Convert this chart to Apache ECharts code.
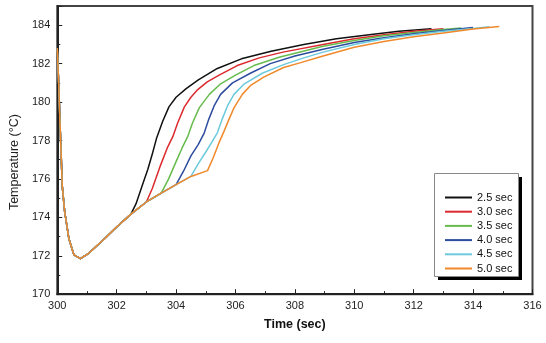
<!DOCTYPE html>
<html>
<head>
<meta charset="utf-8">
<script src="https://cdn.jsdelivr.net/npm/echarts@6/dist/echarts.min.js"></script>
<style>html,body{margin:0;padding:0;background:#fff}#c{width:546px;height:343px}</style>
</head>
<body>
<div id="c"></div>
<script>
// Series names
const seriesNames = ['2.5 sec', '3.0 sec', '3.5 sec', '4.0 sec', '4.5 sec', '5.0 sec'];
// Common cooling / base path (time s, temperature °C)
const baseCurve = [
  [300.0,182.8],[300.05,180.9],[300.1,178.6],[300.17,175.6],[300.25,174.3],[300.39,172.9],
  [300.56,172.05],[300.78,171.85],[301.06,172.13],[301.6,172.9],[302.0,173.5],[302.48,174.17],
  [303.0,174.8],[303.5,175.26],[304.0,175.7],[304.5,176.13],[305.06,176.43]
];
// Branch time for each series (where it leaves the base path)
const branchTimes = [302.48, 303.0, 303.5, 304.0, 304.5, 305.06];
// Rising part of each series
const rise25 = [[302.65,174.7],[302.85,175.6],[303.05,176.5],[303.2,177.3],[303.34,178.1],[303.55,179.0],[303.76,179.75],[304.0,180.25],[304.34,180.7],[304.75,181.15],[305.39,181.75],[306.2,182.25],[307.2,182.65],[308.3,183.0],[309.4,183.3],[310.5,183.5],[311.5,183.68],[312.6,183.82]];
const rise30 = [[303.2,175.5],[303.45,176.6],[303.7,177.6],[303.89,178.2],[304.05,178.9],[304.28,179.75],[304.5,180.25],[304.73,180.65],[305.05,181.05],[305.45,181.4],[306.06,181.9],[306.8,182.3],[307.6,182.6],[308.95,183.0],[310.0,183.3],[311.0,183.5],[312.0,183.68],[313.0,183.82]];
const rise35 = [[303.75,176.0],[304.0,176.9],[304.2,177.6],[304.39,178.2],[304.55,178.9],[304.78,179.7],[305.12,180.4],[305.5,180.95],[306.0,181.4],[306.62,181.9],[307.5,182.35],[308.95,182.9],[310.0,183.2],[311.0,183.45],[312.0,183.62],[313.0,183.78],[313.6,183.85]];
const rise40 = [[304.25,176.4],[304.5,177.2],[304.75,177.8],[304.95,178.4],[305.1,179.1],[305.28,179.8],[305.5,180.4],[305.9,181.0],[306.5,181.5],[307.17,182.0],[308.0,182.4],[308.95,182.75],[310.0,183.1],[311.0,183.35],[312.0,183.55],[313.0,183.72],[314.0,183.88]];
const rise45 = [[304.75,176.8],[305.0,177.4],[305.2,177.9],[305.39,178.4],[305.55,179.1],[305.73,179.8],[305.95,180.4],[306.3,180.95],[306.9,181.5],[307.62,181.95],[308.3,182.3],[308.95,182.6],[310.0,183.0],[311.0,183.3],[312.0,183.5],[313.0,183.68],[314.0,183.83],[314.55,183.92]];
const rise50 = [[305.25,177.1],[305.45,177.9],[305.62,178.5],[305.78,179.1],[305.95,179.7],[306.23,180.4],[306.5,180.85],[306.95,181.3],[307.62,181.8],[308.17,182.04],[308.95,182.4],[310.0,182.85],[311.0,183.15],[312.0,183.4],[313.0,183.6],[314.0,183.8],[314.88,183.93]];
const rises = [rise25, rise30, rise35, rise40, rise45, rise50];
const colors = ['#111111', '#dc2a2f', '#66bb4d', '#2d4c9e', '#6ccadd', '#f0892b'];

const series = seriesNames.map((name, i) => ({
  name: name,
  type: 'line',
  showSymbol: false,
  symbol: 'none',
  smooth: false,
  lineStyle: { width: 1.5, color: colors[i], join: 'round' },
  itemStyle: { color: colors[i] },
  data: baseCurve.filter(p => p[0] <= branchTimes[i] + 1e-9).concat(rises[i]),
  z: 2 + i
}));

const chart = echarts.init(document.getElementById('c'), null, { renderer: 'canvas' });
chart.setOption({
  animation: false,
  backgroundColor: '#fff',
  grid: { left: 51.5, right: 13.5, top: 6, bottom: 48.8, show: true, borderColor: '#444', borderWidth: 2, backgroundColor: 'transparent' },
  xAxis: {
    type: 'value', min: 300, max: 316, interval: 2,
    name: 'Time (sec)', nameLocation: 'middle', nameGap: 24,
    nameTextStyle: { fontFamily: 'Liberation Sans, Arial', fontSize: 12.5, fontWeight: 'bold', color: '#111' },
    axisLine: { show: true, onZero: false, lineStyle: { color: '#222', width: 2 } },
    axisTick: { show: true, inside: true, length: 5, lineStyle: { color: '#222', width: 1 } },
    minorTick: { show: true, splitNumber: 2, length: 3, lineStyle: { color: '#222' } },
    splitLine: { show: false },
    axisLabel: { fontFamily: 'Liberation Sans, Arial', fontSize: 11, color: '#222', margin: 6 }
  },
  yAxis: {
    type: 'value', min: 170, max: 185, interval: 2,
    name: 'Temperature (°C)', nameLocation: 'middle', nameGap: 33,
    nameTextStyle: { fontFamily: 'Liberation Sans, Arial', fontSize: 12.5, color: '#222', padding: [0, 24, 0, 0] },
    axisLine: { show: true, onZero: false, lineStyle: { color: '#222', width: 2 } },
    axisTick: { show: true, inside: true, length: 5, lineStyle: { color: '#222', width: 1 } },
    minorTick: { show: true, splitNumber: 2, length: 3, lineStyle: { color: '#222' } },
    splitLine: { show: false },
    axisLabel: { fontFamily: 'Liberation Sans, Arial', fontSize: 11, color: '#222', margin: 7,
      formatter: v => (v % 2 === 0 ? String(v) : '') }
  },
  legend: {
    orient: 'vertical', left: 445, top: 192, z: 20, padding: 0,
    itemWidth: 27, itemHeight: 2, itemGap: 3.2,
    icon: 'rect',
    textStyle: { fontFamily: 'Liberation Sans, Arial', fontSize: 11, color: '#111', lineHeight: 11 },
    data: seriesNames
  },
  graphic: [
    { type: 'rect', left: 438, top: 177, shape: { width: 84, height: 103 }, style: { fill: '#000' }, z: 1 },
    { type: 'rect', left: 434, top: 173, shape: { width: 84, height: 103 }, style: { fill: '#fff', stroke: '#888', lineWidth: 1 }, z: 2 }
  ],
  series: series
});
</script>
</body>
</html>
